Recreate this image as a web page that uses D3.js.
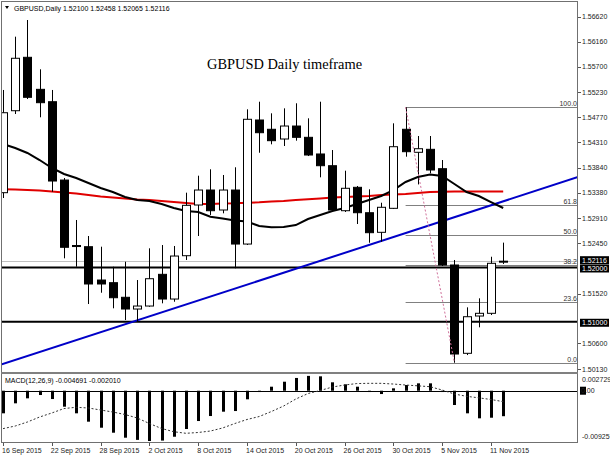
<!DOCTYPE html>
<html>
<head>
<meta charset="utf-8">
<script src="https://cdn.jsdelivr.net/npm/d3@7"></script>
<style>
  body { margin: 0; background: #fff; }
  svg { display: block; font-family: "Liberation Sans", Arial, sans-serif; }
</style>
</head>
<body>
<svg id="chart" width="610" height="457"></svg>
<script>
// daily bars, 16 Sep 2015 .. 12 Nov 2015
const dates = ['16 Sep 2015','17 Sep 2015','18 Sep 2015','21 Sep 2015','22 Sep 2015','23 Sep 2015','24 Sep 2015','25 Sep 2015',
  '28 Sep 2015','29 Sep 2015','30 Sep 2015','1 Oct 2015','2 Oct 2015','5 Oct 2015','6 Oct 2015','7 Oct 2015',
  '8 Oct 2015','9 Oct 2015','12 Oct 2015','13 Oct 2015','14 Oct 2015','15 Oct 2015','16 Oct 2015','19 Oct 2015',
  '20 Oct 2015','21 Oct 2015','22 Oct 2015','23 Oct 2015','26 Oct 2015','27 Oct 2015','28 Oct 2015','29 Oct 2015',
  '30 Oct 2015','2 Nov 2015','3 Nov 2015','4 Nov 2015','5 Nov 2015','6 Nov 2015','9 Nov 2015','10 Nov 2015',
  '11 Nov 2015','12 Nov 2015']

const open = [1.53378,1.54888,1.55872,1.55282,1.55054,1.53611,1.52405,1.52383,1.51769,1.51720,1.51451,1.51235,1.51290,1.51874,
  1.51419,1.52217,1.53151,1.53427,1.53059,1.53427,1.52432,1.54717,1.54546,1.54367,1.54606,1.54398,1.54091,1.53875,1.53046,
  1.53477,1.53009,1.52648,1.53090,1.54546,1.54122,1.54177,1.53820,1.52046,1.50419,1.51106,1.51156,1.52100]
const high = [1.55270,1.56252,1.56559,1.55651,1.55270,1.53648,1.52875,1.52580,1.52383,1.52014,1.52106,1.51769,1.52353,1.52414,
  1.52396,1.53378,1.53691,1.53809,1.53704,1.53846,1.54914,1.55054,1.54840,1.54932,1.55025,1.54748,1.55054,1.54164,1.53783,
  1.53501,1.53440,1.53193,1.54656,1.54950,1.54422,1.54422,1.53980,1.52138,1.51266,1.51432,1.52198,1.52458]
const low = [1.53280,1.54827,1.55104,1.54767,1.53396,1.52169,1.52014,1.51327,1.51535,1.51248,1.51032,1.51001,1.51277,1.51340,
  1.51369,1.52138,1.52580,1.52967,1.52998,1.51985,1.52414,1.54114,1.54269,1.54238,1.54336,1.54053,1.53661,1.53022,1.53022,
  1.52801,1.52456,1.52475,1.53077,1.54041,1.53530,1.53735,1.52027,1.50245,1.50387,1.50898,1.51124,1.52065]
const close = [1.54851,1.55854,1.55135,1.55036,1.53593,1.52372,1.52386,1.51696,1.51696,1.51443,1.51235,1.51290,1.51793,1.51419,
  1.52211,1.53145,1.53427,1.53046,1.53427,1.52432,1.54730,1.54483,1.54336,1.54606,1.54398,1.54072,1.53875,1.53059,1.53459,
  1.53009,1.52641,1.53109,1.54225,1.54133,1.54188,1.53796,1.52046,1.50406,1.51093,1.51156,1.52077,1.52116]

// moving averages (black = fast, red = slow)
const maFast = [1.54275,1.54201,1.54109,1.53980,1.53833,1.53722,1.53648,1.53556,1.53464,1.53390,1.53298,1.53243,1.53225,1.53169,
  1.53096,1.53040,1.53022,1.52935,1.52902,1.52865,1.52847,1.52764,1.52740,1.52746,1.52782,1.52893,1.52967,1.53040,1.53096,
  1.53169,1.53243,1.53317,1.53427,1.53575,1.53667,1.53713,1.53685,1.53538,1.53390,1.53317,1.53206,1.53096]
const maSlow = [1.53440,1.53436,1.53427,1.53418,1.53400,1.53381,1.53363,1.53335,1.53308,1.53289,1.53271,1.53252,1.53243,1.53225,
  1.53206,1.53188,1.53169,1.53169,1.53179,1.53183,1.53192,1.53201,1.53216,1.53225,1.53243,1.53256,1.53271,1.53289,1.53298,
  1.53308,1.53317,1.53335,1.53344,1.53354,1.53372,1.53391,1.53396,1.53400,1.53400,1.53400,1.53400,1.53400]

// MACD(12,26,9)
const macdHist = [-0.00416,-0.00232,-0.00140,-0.00079,-0.00153,-0.00294,-0.00416,-0.00570,-0.00681,-0.00773,-0.00865,-0.00905,
  -0.00926,-0.00918,-0.00847,-0.00705,-0.00558,-0.00466,-0.00386,-0.00374,-0.00158,-0.00024,0.00074,0.00166,0.00235,0.00273,
  0.00265,0.00155,0.00118,0.00074,-0.00024,-0.00061,0.00044,0.00105,0.00136,0.00136,-0.00024,-0.00263,-0.00416,-0.00508,
  -0.00497,-0.004691]
const macdSignal = [-0.00698,-0.00650,-0.00576,-0.00484,-0.00410,-0.00328,-0.00305,-0.00318,-0.00355,-0.00392,-0.00438,-0.00502,
  -0.00604,-0.00696,-0.00755,-0.00784,-0.00769,-0.00742,-0.00686,-0.00604,-0.00530,-0.00475,-0.00383,-0.00282,-0.00153,-0.00052,
  0.00004,0.00068,0.00105,0.00132,0.00136,0.00136,0.00123,0.00105,0.00090,0.00074,0.00013,-0.00061,-0.00103,-0.00131,-0.00162,
  -0.00201]

const priceTicks = [1.56620,1.56160,1.55700,1.55230,1.54770,1.54310,1.53840,1.53380,1.52910,1.52450,1.51520,1.50600,1.50130]
const macdTicks = [0.002729, -0.009257]
const hLevels = [1.52000, 1.51000]
const bid = 1.52116
const fibLevels = [100, 61.8, 50, 38.2, 23.6, 0]
const fibFrom = 33, fibTo = 37
const fibHigh = 1.54950, fibLow = 1.50245
const trendPts = [[0, 1.50222], [41, 1.53219]]

const svg = d3.select('#chart')
const left = 1, right = 578
const mainTop = 1, mainBottom = 372
const macdTop = 375, macdBottom = 443

const x = d3.scaleLinear().domain([0, 41]).range([3, 503.2])
const y = d3.scaleLinear().domain([1.50130, 1.56620]).range([369, 16.7])
const ym = d3.scaleLinear().domain([-0.009257, 0.002729]).range([441, 375.9])

svg.append('defs').append('clipPath').attr('id', 'clipMain')
  .append('rect').attr('x', left).attr('y', mainTop).attr('width', right - left).attr('height', mainBottom - mainTop)
svg.select('defs').append('clipPath').attr('id', 'clipMacd')
  .append('rect').attr('x', left).attr('y', macdTop).attr('width', right - left).attr('height', macdBottom - macdTop)

const g = svg.append('g').attr('clip-path', 'url(#clipMain)')

// bid line + horizontal levels
g.append('line').attr('x1', left).attr('x2', right).attr('y1', Math.round(y(bid)) + 0.5).attr('y2', Math.round(y(bid)) + 0.5)
  .attr('stroke', '#c0c0c0').attr('stroke-width', 1)
g.selectAll('line.lvl').data(hLevels).join('line').attr('class', 'lvl')
  .attr('x1', left).attr('x2', right).attr('y1', d => y(d)).attr('y2', d => y(d))
  .attr('stroke', '#000').attr('stroke-width', 2)

// fibonacci
const fibPrice = l => fibLow + (fibHigh - fibLow) * l / 100
g.selectAll('line.fib').data(fibLevels).join('line').attr('class', 'fib')
  .attr('x1', x(fibFrom)).attr('x2', right)
  .attr('y1', d => Math.round(y(fibPrice(d))) + 0.5).attr('y2', d => Math.round(y(fibPrice(d))) + 0.5)
  .attr('stroke', '#808080').attr('stroke-width', 1)
g.selectAll('text.fib').data(fibLevels).join('text').attr('class', 'fib')
  .attr('x', right - 1).attr('y', d => Math.round(y(fibPrice(d))) - 1)
  .attr('text-anchor', 'end').attr('font-size', 7).attr('fill', '#333')
  .text(d => d.toFixed(1))

// trend line (ray extended across the panel)
const tSlope = (trendPts[1][1] - trendPts[0][1]) / (trendPts[1][0] - trendPts[0][0])
const tAt = i => trendPts[0][1] + tSlope * (i - trendPts[0][0])
const iL = x.invert(left), iR = x.invert(right)
g.append('line').attr('x1', left).attr('y1', y(tAt(iL))).attr('x2', right).attr('y2', y(tAt(iR)))
  .attr('stroke', '#0000c8').attr('stroke-width', 2)

// moving averages
const idx = d3.range(dates.length)
g.append('path').attr('d', d3.line().x(i => x(i)).y(i => y(maSlow[i]))(idx))
  .attr('fill', 'none').attr('stroke', '#e00000').attr('stroke-width', 2)
g.append('path').attr('d', d3.line().x(i => x(i)).y(i => y(maFast[i]))(idx))
  .attr('fill', 'none').attr('stroke', '#000').attr('stroke-width', 2)

// candles
const bw = 8
const c = g.selectAll('g.c').data(idx).join('g').attr('class', 'c')
c.append('line')
  .attr('x1', i => Math.round(x(i)) + 0.5).attr('x2', i => Math.round(x(i)) + 0.5)
  .attr('y1', i => y(high[i])).attr('y2', i => y(low[i]))
  .attr('stroke', '#000').attr('stroke-width', 1)
c.append('rect')
  .attr('x', i => Math.round(x(i)) - bw / 2 + 0.5)
  .attr('y', i => y(Math.max(open[i], close[i])))
  .attr('width', bw)
  .attr('height', i => Math.max(1, Math.abs(y(open[i]) - y(close[i]))))
  .attr('fill', i => close[i] >= open[i] ? '#fff' : '#000')
  .attr('stroke', '#000').attr('stroke-width', 1)

// fib trend (dotted)
g.append('line').attr('x1', x(fibFrom)).attr('y1', y(fibHigh)).attr('x2', x(fibTo)).attr('y2', y(fibLow))
  .attr('stroke', '#d0709a').attr('stroke-width', 1).attr('stroke-dasharray', '2,2')

// title
svg.append('text').attr('x', 207).attr('y', 68.5)
  .attr('font-family', '"Liberation Serif", "Times New Roman", serif').attr('font-size', 14.4)
  .attr('fill', '#000').text('GBPUSD Daily timeframe')

// header
svg.append('path').attr('d', 'M5,6L9,6L7,9Z').attr('fill', '#000')
svg.append('text').attr('x', 14).attr('y', 10.5).attr('font-size', 7).attr('fill', '#000')
  .text('GBPUSD,Daily  1.52100 1.52458 1.52065 1.52116')

// MACD panel
const gm = svg.append('g').attr('clip-path', 'url(#clipMacd)')
gm.append('line').attr('x1', left).attr('x2', right).attr('y1', Math.round(ym(0)) + 0.5).attr('y2', Math.round(ym(0)) + 0.5)
  .attr('stroke', '#000').attr('stroke-width', 1)
gm.selectAll('rect.h').data(idx).join('rect').attr('class', 'h')
  .attr('x', i => Math.round(x(i)) - 1)
  .attr('y', i => Math.min(ym(0), ym(macdHist[i])))
  .attr('width', 3)
  .attr('height', i => Math.abs(ym(macdHist[i]) - ym(0)))
  .attr('fill', '#000')
gm.append('path').attr('d', d3.line().x(i => x(i)).y(i => ym(macdSignal[i]))(idx))
  .attr('fill', 'none').attr('stroke', '#333').attr('stroke-width', 1).attr('stroke-dasharray', '2,2')
svg.append('text').attr('x', 5).attr('y', 383).attr('font-size', 7).attr('fill', '#000')
  .text('MACD(12,26,9) -0.004691 -0.002010')

// frames
svg.append('rect').attr('x', left + 0.5).attr('y', mainTop + 0.5).attr('width', right - left - 1).attr('height', mainBottom - mainTop)
  .attr('fill', 'none').attr('stroke', '#707070').attr('stroke-width', 1)
svg.append('rect').attr('x', left + 0.5).attr('y', macdTop - 1.5).attr('width', right - left - 1).attr('height', macdBottom - macdTop + 1)
  .attr('fill', 'none').attr('stroke', '#707070').attr('stroke-width', 1)
svg.append('line').attr('x1', left).attr('x2', right).attr('y1', 373).attr('y2', 373).attr('stroke', '#909090').attr('stroke-width', 1)

// price axis
const pa = svg.append('g').attr('font-size', 7).attr('fill', '#222')
pa.selectAll('line').data(priceTicks).join('line')
  .attr('x1', right).attr('x2', right + 3).attr('y1', d => Math.round(y(d)) + 0.5).attr('y2', d => Math.round(y(d)) + 0.5)
  .attr('stroke', '#555')
pa.selectAll('text').data(priceTicks).join('text')
  .attr('x', right + 4).attr('y', d => y(d) + 2.5).text(d => d.toFixed(5))

// highlighted price boxes
const boxes = [[bid, 1.52116], [hLevels[0], 1.52000], [hLevels[1], 1.51000]]
boxes.forEach(([p, v], k) => {
  const yy = k === 0 ? y(p) - 1 : y(p) + 1
  svg.append('rect').attr('x', right + 2).attr('y', yy - 4).attr('width', 29).attr('height', 8).attr('fill', '#000')
  svg.append('text').attr('x', right + 4).attr('y', yy + 2.5).attr('font-size', 7).attr('fill', '#fff').text(v.toFixed(5))
})

// MACD axis
svg.selectAll('text.mt').data(macdTicks).join('text').attr('class', 'mt')
  .attr('x', right + 4).attr('y', d => d > 0 ? ym(d) + 6 : ym(d) - 2)
  .attr('font-size', 7).attr('fill', '#222').text(d => d.toFixed(6))
svg.append('rect').attr('x', right + 2).attr('y', ym(0) - 4).attr('width', 6).attr('height', 8).attr('fill', '#000')
svg.append('text').attr('x', right + 3).attr('y', ym(0) + 2.5).attr('font-size', 7).attr('fill', '#222').text('0.00')

// date axis
const dIdx = idx.filter(i => i % 4 === 0)
svg.selectAll('line.dt').data(dIdx).join('line').attr('class', 'dt')
  .attr('x1', i => Math.round(x(i)) + 0.5).attr('x2', i => Math.round(x(i)) + 0.5)
  .attr('y1', macdBottom).attr('y2', macdBottom + 3).attr('stroke', '#555')
svg.selectAll('text.dt').data(dIdx).join('text').attr('class', 'dt')
  .attr('x', i => x(i) - 1).attr('y', 453).attr('font-size', 7).attr('fill', '#222')
  .text(i => dates[i])
</script>
</body>
</html>
